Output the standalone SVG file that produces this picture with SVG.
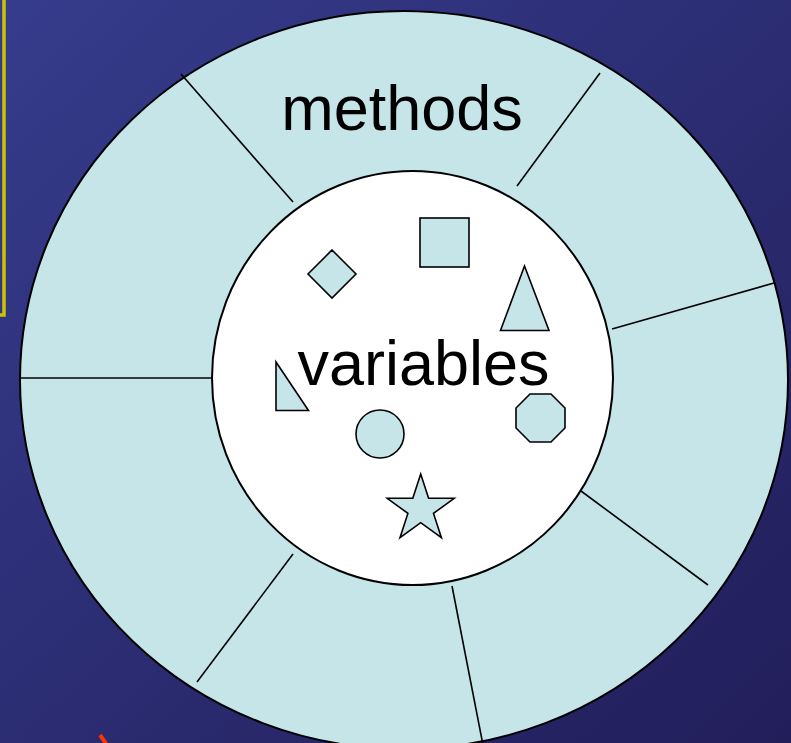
<svg xmlns="http://www.w3.org/2000/svg" width="791" height="743" viewBox="0 0 791 743">
  <defs>
    <linearGradient id="bg" x1="0" y1="0" x2="1" y2="1">
      <stop offset="0" stop-color="#363c8c"/>
      <stop offset="1" stop-color="#211e5a"/>
    </linearGradient>
  </defs>
  <style>
    .fill { fill: #c5e5e8; stroke: #000; stroke-width: 2; }
    .shape { fill: #c5e5e8; stroke: #000; stroke-width: 1.6; stroke-linejoin: miter; }
    .spoke { stroke: #000; stroke-width: 1.6; fill: none; }
    .lbl { font-family: "Liberation Sans", Arial, sans-serif; font-size: 63px; fill: #000; text-anchor: middle; }
  </style>
  <rect x="0" y="0" width="791" height="743" fill="url(#bg)"/>
  <rect x="-100" y="-10" width="104" height="325" fill="none" stroke="#cbc400" stroke-width="3.5"/>
  <line x1="100" y1="735" x2="107" y2="745" stroke="#ff3300" stroke-width="4"/>

  <g id="outer">
    <ellipse class="fill" cx="404" cy="380" rx="384" ry="369"/>
  </g>
  <g id="connectors">
    <line class="spoke" x1="181" y1="74" x2="293" y2="202"/>
    <line class="spoke" x1="600" y1="73" x2="517" y2="186"/>
    <line class="spoke" x1="774" y1="283" x2="612" y2="329"/>
    <line class="spoke" x1="21" y1="378" x2="212" y2="378"/>
    <line class="spoke" x1="581" y1="491" x2="708" y2="585"/>
    <line class="spoke" x1="452" y1="586" x2="483" y2="745"/>
    <line class="spoke" x1="293" y1="554" x2="197" y2="682"/>
  </g>
  <g id="inner">
    <ellipse cx="412.5" cy="378" rx="200.5" ry="207" fill="#fff" stroke="#000" stroke-width="2"/>
  </g>
  <g id="methods">
    <text class="lbl" x="402" y="130">methods</text>
  </g>
  <g id="square"><rect class="shape" x="420" y="218" width="49" height="49"/></g>
  <g id="diamond"><polygon class="shape" points="332,250 356,274 332,298 308,274"/></g>
  <g id="triangle"><polygon class="shape" points="524.5,266 549,330.5 500.5,330.5"/></g>
  <g id="right-triangle"><polygon class="shape" points="276,362 276,410.5 308.5,410.5"/></g>
  <g id="circle"><circle class="shape" cx="380" cy="434" r="24"/></g>
  <g id="octagon"><polygon class="shape" points="530,394 551,394 565,408 565,428 551,442 530,442 516,428 516,408"/></g>
  <g id="star"><polygon class="shape" points="420.7,474 428.6,498.3 454.2,498.3 433.5,513.4 441.4,537.7 420.7,522.7 400,537.7 407.9,513.4 387.2,498.3 412.8,498.3"/></g>
  <g id="variables">
    <text class="lbl" x="423.5" y="385">variables</text>
  </g>
</svg>
